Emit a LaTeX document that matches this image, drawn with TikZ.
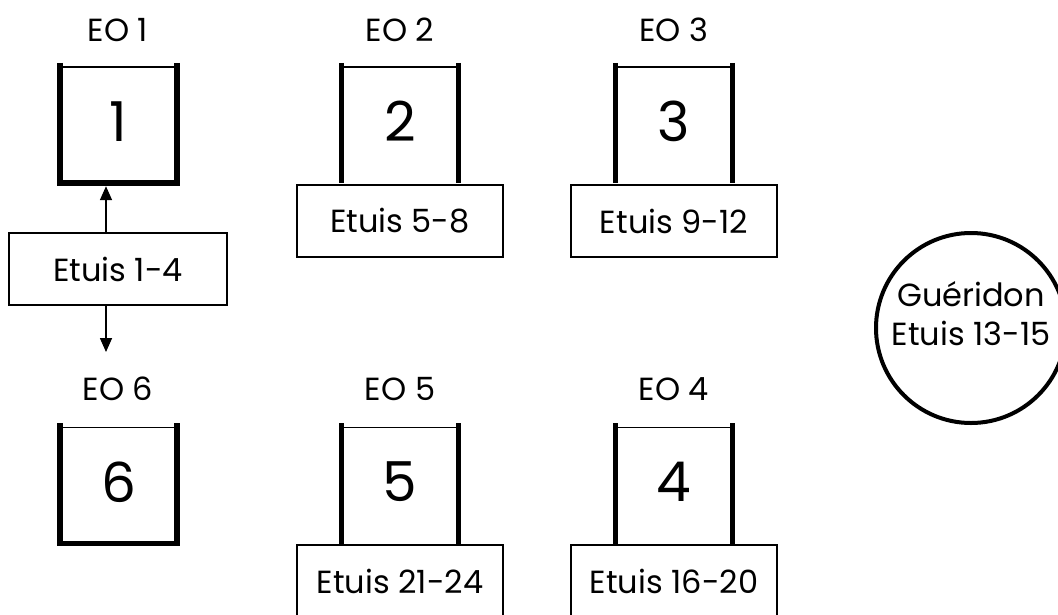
\documentclass[tikz,border=0pt]{standalone}
\usepackage{fontspec}
\setmainfont{Poppins}
\usetikzlibrary{arrows.meta}
\tikzset{
  thickln/.style={line width=5.5pt},
  thinln/.style={line width=1.6pt},
  eoshape/.style={minimum width=117pt, minimum height=116pt, inner sep=0pt, font=\fontsize{55}{60}\selectfont},
  etuisbox/.style={draw, line width=1.6pt, minimum width=206pt, minimum height=72pt, inner sep=0pt, font=\fontsize{32}{36}\selectfont},
  eolabel/.style={font=\fontsize{32}{36}\selectfont, inner sep=0pt},
  arr/.style={line width=1.6pt, -{Triangle[length=14pt,width=12pt]}},
}
\newcommand{\eodraw}[2]{%
  \draw[thinln] (#1.north west) -- (#1.north east);
  \draw[thickln] ([yshift=4pt]#1.north west) -- (#1.south west);
  \draw[thickln] ([yshift=4pt]#1.north east) -- (#1.south east);
  #2
}
\begin{document}
\begin{tikzpicture}[x=1pt,y=-1pt]
\useasboundingbox (0,0) rectangle (1058,614);
\clip (0,0) rectangle (1058,614);
% labels
\node[eolabel] (l1) at (118,30) {EO 1};
\node[eolabel] (l2) at (400,30) {EO 2};
\node[eolabel] (l3) at (674,30) {EO 3};
\node[eolabel] (l6) at (118,389) {EO 6};
\node[eolabel] (l5) at (400,389) {EO 5};
\node[eolabel] (l4) at (674,389) {EO 4};
% EO boxes
\node[eoshape] (eo1) at (118.5,125) {\raisebox{7pt}{1}};
\node[eoshape] (eo2) at (400,125) {\raisebox{7pt}{2}};
\node[eoshape] (eo3) at (674,125) {\raisebox{7pt}{3}};
\node[eoshape] (eo6) at (118.5,485.5) {\raisebox{7pt}{6}};
\node[eoshape] (eo5) at (400,485.5) {\raisebox{7pt}{5}};
\node[eoshape] (eo4) at (674,485.5) {\raisebox{7pt}{4}};
\eodraw{eo1}{\draw[thickln] ([xshift=-2.75pt]eo1.south west) -- ([xshift=2.75pt]eo1.south east);}
\eodraw{eo6}{\draw[thickln] ([xshift=-2.75pt]eo6.south west) -- ([xshift=2.75pt]eo6.south east);}
\eodraw{eo2}{}
\eodraw{eo3}{}
\eodraw{eo5}{}
\eodraw{eo4}{}
% Etuis boxes
\node[etuisbox, minimum width=218pt] (e14) at (118,269) {Etuis 1-4};
\node[etuisbox] (e58) at (400,221) {Etuis 5-8};
\node[etuisbox] (e912) at (674,221) {Etuis 9-12};
\node[etuisbox] (e2124) at (400,581) {Etuis 21-24};
\node[etuisbox] (e1620) at (674,581) {Etuis 16-20};
% arrows
\coordinate (down) at (106,352);
\draw[arr] ([xshift=-12pt]e14.north) -- ([xshift=-12.5pt,yshift=-3pt]eo1.south);
\draw[arr] ([xshift=-12pt]e14.south) -- (down);
% gueridon
\node[circle, draw, line width=4pt, minimum size=190pt, inner sep=0pt] (gue) at (971,328) {};
\node[align=center, font=\fontsize{32}{39}\selectfont, inner sep=0pt] (guetext) at ([yshift=14pt]gue.center) {Guéridon\\Etuis 13-15};
\end{tikzpicture}
\end{document}
